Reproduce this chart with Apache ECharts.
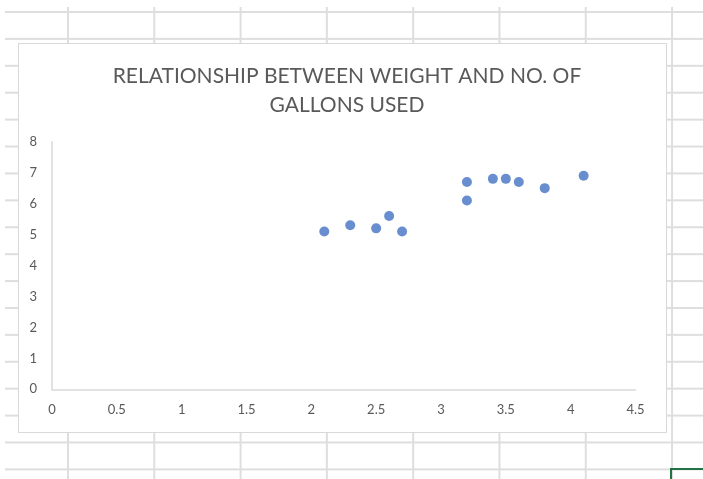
<!DOCTYPE html>
<html>
<head>
<meta charset="utf-8">
<script src="https://cdn.jsdelivr.net/npm/echarts@6/dist/echarts.min.js"></script>
<style>
  html, body { margin: 0; padding: 0; background: #ffffff; width: 703px; height: 479px; overflow: hidden; }
  #sheet {
    position: absolute; left: 5px; top: 7px; width: 698px; height: 472px;
    background-image:
      linear-gradient(to right, #dedede 0, #dedede 2px, transparent 2px),
      linear-gradient(to bottom, #dedede 0, #dedede 2px, transparent 2px);
    background-size: 86.3px 100%, 100% 26.92px;
    background-position: 62px 0, 0 4px;
  }
  #box {
    position: absolute; left: 18px; top: 43px; width: 647px; height: 388px;
    background: #ffffff; border: 1px solid #d9d9d9;
  }
  #sel {
    position: absolute; left: 670px; top: 468px; width: 40px; height: 20px;
    border: 2px solid #217346;
  }
  #chart { position: absolute; left: 0; top: 0; width: 703px; height: 479px; }
</style>
</head>
<body>
<div id="sheet"></div>
<div id="box"></div>
<div id="sel"></div>
<div id="chart"></div>
<script>
const titleText = 'RELATIONSHIP BETWEEN WEIGHT AND NO. OF\nGALLONS USED';
const weight = [2.1, 2.3, 2.5, 2.6, 2.7, 3.2, 3.2, 3.4, 3.5, 3.6, 3.8, 4.1];
const gallons = [5.1, 5.3, 5.2, 5.6, 5.1, 6.7, 6.1, 6.8, 6.8, 6.7, 6.5, 6.9];
const xTicks = { min: 0, max: 4.5, interval: 0.5 };
const yTicks = { min: 0, max: 8, interval: 1 };

const chart = echarts.init(document.getElementById('chart'), null, { renderer: 'canvas' });
const labelFont = { color: '#595959', fontSize: 13, fontFamily: 'Lato, "Open Sans", sans-serif' };
chart.setOption({
  backgroundColor: 'transparent',
  animation: false,
  title: {
    text: titleText,
    left: 342, top: 57, textAlign: 'center',
    textStyle: { color: '#595959', fontSize: 21, fontWeight: 'normal', fontFamily: 'Lato, "Open Sans", sans-serif', lineHeight: 29 }
  },
  grid: { left: 52, right: 67.5, top: 141.7, bottom: 89.7, containLabel: false },
  xAxis: {
    type: 'value', min: xTicks.min, max: xTicks.max, interval: xTicks.interval,
    axisLine: { show: true, lineStyle: { color: '#d9d9d9', width: 1.5 } },
    axisTick: { show: false },
    splitLine: { show: false },
    axisLabel: Object.assign({ margin: 14, showMaxLabel: true, showMinLabel: true }, labelFont)
  },
  yAxis: {
    type: 'value', min: yTicks.min, max: yTicks.max, interval: yTicks.interval,
    axisLine: { show: true, lineStyle: { color: '#d9d9d9', width: 1.5 } },
    axisTick: { show: false },
    splitLine: { show: false },
    axisLabel: Object.assign({ margin: 15 }, labelFont)
  },
  series: [{
    type: 'scatter',
    data: weight.map((w, i) => [w, gallons[i]]),
    symbol: 'circle',
    symbolSize: 10,
    itemStyle: { color: '#4472C4' }
  }]
});
</script>
</body>
</html>
